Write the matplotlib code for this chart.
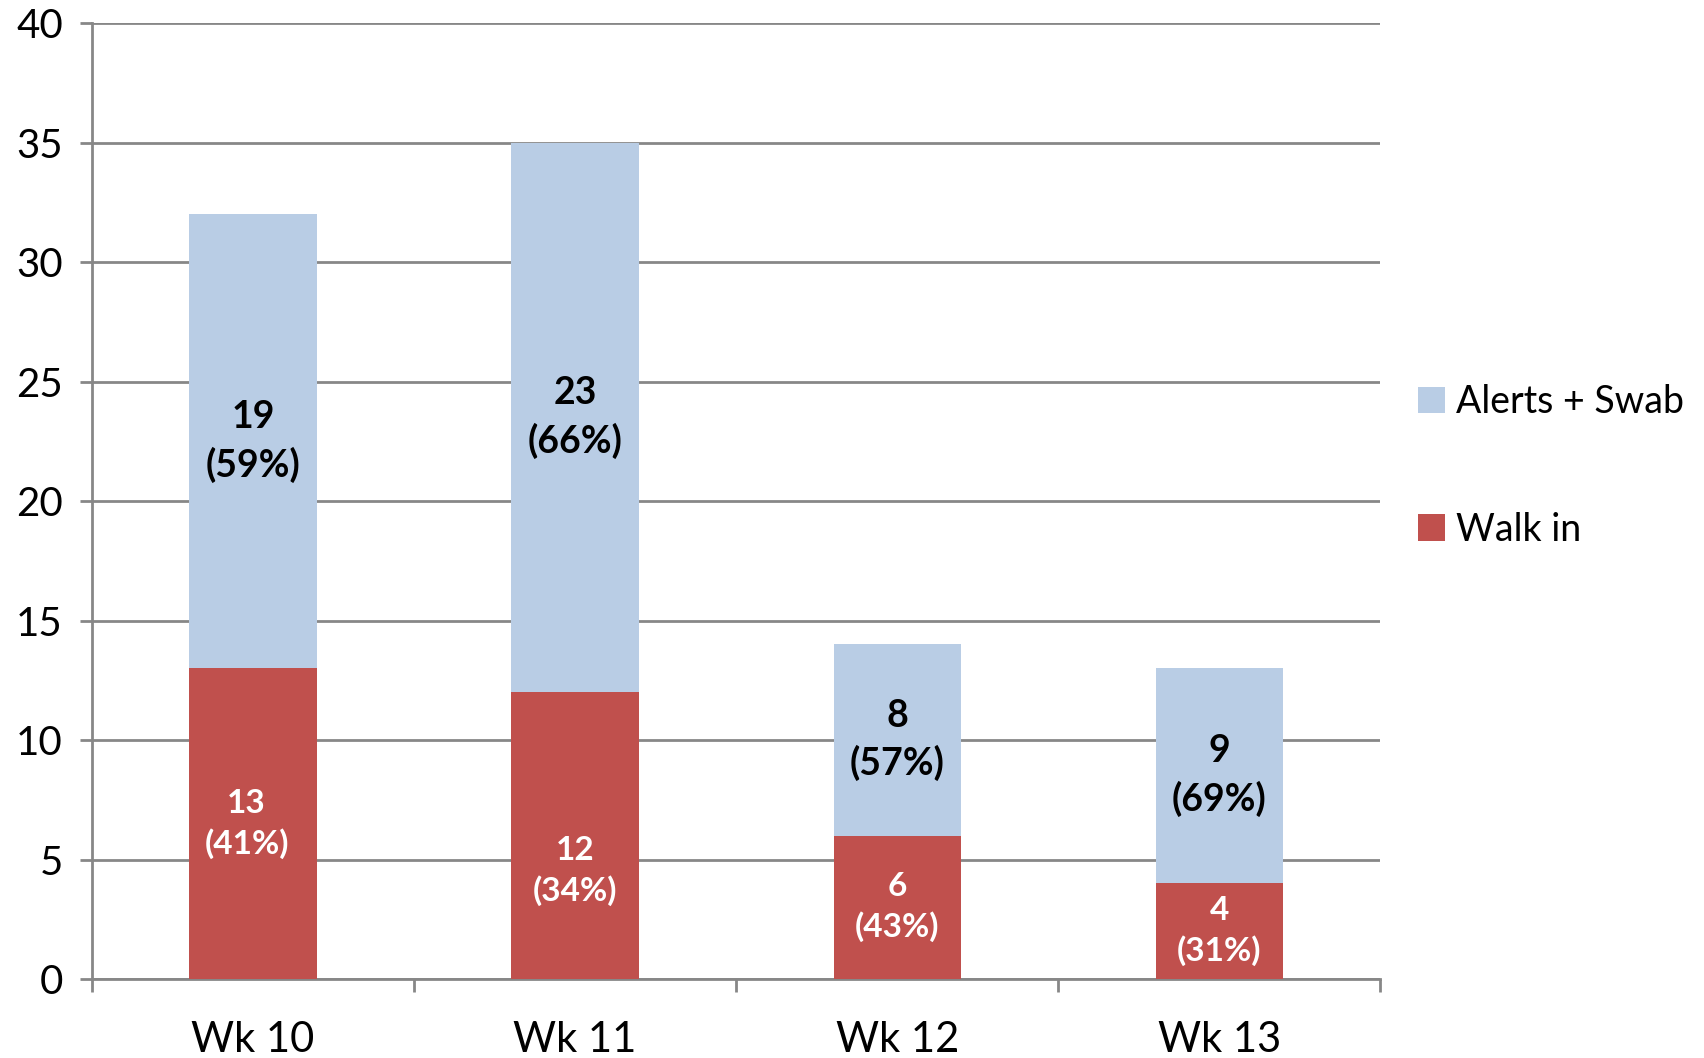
import matplotlib.pyplot as plt
from matplotlib.patches import Patch
import numpy as np

# Data
weeks = ["Wk 10", "Wk 11", "Wk 12", "Wk 13"]
walk_in = [13, 12, 6, 4]
alerts_swab = [19, 23, 8, 9]
walk_pct = [41, 34, 43, 31]
alerts_pct = [59, 66, 57, 69]

blue = "#B9CDE5"
red = "#C0504D"
grey = "#878787"

plt.rcParams["font.family"] = ["Lato", "DejaVu Sans"]

fig = plt.figure(figsize=(17.04, 10.58), dpi=100)
ax = fig.add_axes([0.054, 0.0747, 0.756, 0.9033])

x = np.arange(len(weeks))
w = 0.395
ax.bar(x, walk_in, width=w, color=red, zorder=3)
ax.bar(x, alerts_swab, width=w, bottom=walk_in, color=blue, zorder=3)

# label offsets (x shift, y shift) for the walk-in labels, as placed in the original
walk_shift = [(-0.02, 0), (0, -1.5), (0, 0), (0, 0)]

for i in range(len(weeks)):
    dx, dy = walk_shift[i]
    ax.text(x[i] + dx, walk_in[i] / 2 + dy, f"{walk_in[i]}\n({walk_pct[i]}%)",
            ha="center", va="center", color="white", fontsize=24,
            fontweight="bold", linespacing=1.4, zorder=4)
    ax.text(x[i], walk_in[i] + alerts_swab[i] / 2, f"{alerts_swab[i]}\n({alerts_pct[i]}%)",
            ha="center", va="center", color="black", fontsize=27,
            fontweight="bold", linespacing=1.42, zorder=4)

ax.set_xlim(-0.5, len(weeks) - 0.5)
ax.set_ylim(0, 40)
ax.set_yticks(range(0, 41, 5))
ax.yaxis.grid(True, color=grey, linewidth=2, zorder=0)

ax.set_xticks(x)
ax.set_xticklabels(weeks, fontsize=30)
ax.set_xticks(np.arange(-0.5, len(weeks)), minor=True)
ax.tick_params(axis="x", which="major", length=0, pad=30)
ax.tick_params(axis="x", which="minor", length=9, width=2, color=grey, direction="out")
ax.tick_params(axis="y", labelsize=29, length=9, width=2, color=grey, pad=12)

for s in ["top", "right"]:
    ax.spines[s].set_visible(False)
for s in ["left", "bottom"]:
    ax.spines[s].set_color(grey)
    ax.spines[s].set_linewidth(2)

handles = [Patch(facecolor=blue, edgecolor="none", label="Alerts + Swab"),
           Patch(facecolor=red, edgecolor="none", label="Walk in")]
ax.legend(handles=handles, loc="center left", bbox_to_anchor=(1.015, 0.537),
          frameon=False, fontsize=27, handlelength=0.7, handleheight=0.7,
          handletextpad=0.3, labelspacing=2.45, borderpad=0)

fig.savefig("out.png", dpi=100)
